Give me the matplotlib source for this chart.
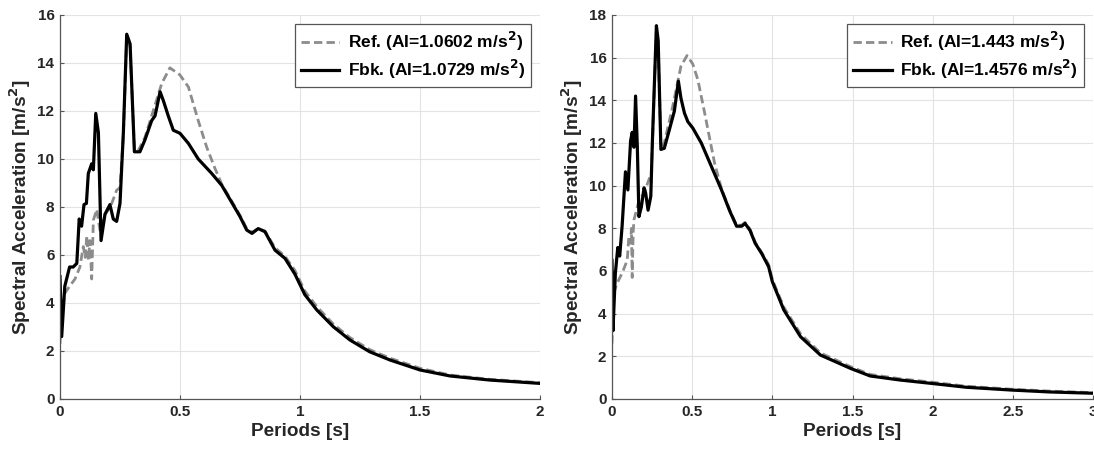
import matplotlib
matplotlib.use("Agg")
import matplotlib.pyplot as plt

plt.rcParams['font.family'] = ['Liberation Sans', 'DejaVu Sans']
plt.rcParams['font.weight'] = 'bold'

# ---- Left panel data ----
left_fbk_T = [0, 0.007, 0.02, 0.04, 0.055, 0.07, 0.08, 0.09, 0.1, 0.11, 0.118, 0.132, 0.139, 0.149, 0.16,
              0.171, 0.1875, 0.208, 0.222, 0.236, 0.25, 0.264, 0.278, 0.292, 0.31, 0.333, 0.354, 0.382,
              0.396, 0.417, 0.43, 0.451, 0.472, 0.5, 0.535, 0.576, 0.632, 0.674, 0.715, 0.75, 0.778, 0.8,
              0.826, 0.854, 0.896, 0.9375, 0.979, 1.02, 1.07, 1.139, 1.208, 1.29, 1.375, 1.5, 1.625, 1.79, 2.0]
left_fbk_SA = [5.1, 2.6, 4.7, 5.5, 5.5, 5.65, 7.5, 7.2, 8.1, 8.15, 9.4, 9.8, 9.55, 11.9, 11.1,
               6.6, 7.7, 8.1, 7.5, 7.4, 8.15, 11.1, 15.2, 14.8, 10.3, 10.3, 10.8, 11.6,
               11.8, 12.8, 12.45, 11.8, 11.2, 11.07, 10.65, 10.0, 9.4, 8.9, 8.2, 7.6, 7.04, 6.9,
               7.1, 6.97, 6.2, 5.86, 5.2, 4.35, 3.71, 3.01, 2.46, 1.97, 1.625, 1.21, 0.96, 0.79, 0.65]

left_ref_T = [0, 0.007, 0.02, 0.04, 0.0625, 0.083, 0.097, 0.105, 0.112, 0.118, 0.125, 0.132, 0.139, 0.153,
              0.167, 0.1875, 0.21, 0.236, 0.25, 0.264, 0.278, 0.292, 0.31, 0.326, 0.354, 0.382, 0.424,
              0.458, 0.5, 0.535, 0.576, 0.611, 0.646, 0.674, 0.715, 0.75, 0.778, 0.8, 0.826, 0.854, 0.896,
              0.9375, 0.979, 1.02, 1.07, 1.139, 1.208, 1.29, 1.375, 1.5, 1.625, 1.79, 2.0]
left_ref_SA = [2.3, 3.5, 4.4, 4.7, 5.0, 5.5, 6.35, 5.9, 6.8, 5.8, 6.6, 5.0, 7.45, 7.9,
               7.0, 7.7, 8.0, 8.7, 8.8, 11.0, 15.1, 14.7, 10.4, 10.35, 10.9, 11.8, 13.15,
               13.8, 13.5, 13.0, 11.6, 10.5, 9.6, 8.95, 8.25, 7.65, 7.1, 6.95, 7.1, 7.0, 6.3,
               5.95, 5.35, 4.5, 3.85, 3.12, 2.56, 2.06, 1.7, 1.28, 1.0, 0.82, 0.68]

# ---- Right panel data ----
right_fbk_T = [0, 0.006, 0.021, 0.036, 0.048, 0.063, 0.084, 0.099, 0.116, 0.126, 0.137, 0.147, 0.158,
               0.168, 0.183, 0.2, 0.21, 0.225, 0.242, 0.252, 0.277, 0.288, 0.305, 0.326, 0.357, 0.389,
               0.414, 0.43, 0.452, 0.473, 0.504, 0.557, 0.62, 0.683, 0.735, 0.777, 0.809, 0.83, 0.861,
               0.893, 0.935, 0.977, 1.0, 1.072, 1.176, 1.3, 1.486, 1.61, 1.796, 1.994, 2.21, 2.49, 2.73, 3.0]
right_fbk_SA = [6.5, 3.2, 5.9, 7.1, 6.7, 8.1, 10.65, 9.8, 12.1, 12.5, 11.8, 14.2, 11.8,
                8.55, 9.0, 9.9, 9.65, 8.85, 9.5, 12.1, 17.5, 16.8, 11.7, 11.75, 12.6, 13.5,
                14.9, 14.1, 13.4, 13.0, 12.7, 12.0, 10.9, 9.8, 8.8, 8.1, 8.1, 8.23, 7.9,
                7.3, 6.8, 6.2, 5.5, 4.17, 2.92, 2.06, 1.44, 1.08, 0.89, 0.73, 0.55, 0.42, 0.33, 0.27]

right_ref_T = [0, 0.01, 0.03, 0.063, 0.095, 0.105, 0.116, 0.121, 0.126, 0.132, 0.137, 0.158, 0.168, 0.2,
               0.231, 0.245, 0.252, 0.277, 0.288, 0.305, 0.326, 0.378, 0.43, 0.468, 0.504, 0.536, 0.578,
               0.62, 0.64, 0.683, 0.735, 0.777, 0.809, 0.83, 0.861, 0.893, 0.935, 0.977, 1.0, 1.072,
               1.176, 1.3, 1.486, 1.61, 1.796, 1.994, 2.21, 2.49, 2.73, 3.0]
right_ref_SA = [2.6, 4.95, 5.4, 5.9, 6.5, 7.6, 7.3, 8.0, 5.7, 7.8, 8.4, 9.0, 9.3, 9.65,
                10.3, 10.6, 12.0, 17.3, 16.6, 11.8, 12.0, 13.7, 15.6, 16.1, 15.7, 14.95, 13.4,
                11.8, 11.05, 9.85, 8.85, 8.15, 8.15, 8.28, 7.95, 7.35, 6.85, 6.3, 5.6, 4.3,
                3.05, 2.16, 1.52, 1.15, 0.95, 0.79, 0.6, 0.46, 0.37, 0.3]

left_labels = ['Ref. (AI=1.0602 m/s$^\\mathbf{2}$)', 'Fbk. (AI=1.0729 m/s$^\\mathbf{2}$)']
right_labels = ['Ref. (AI=1.443 m/s$^\\mathbf{2}$)', 'Fbk. (AI=1.4576 m/s$^\\mathbf{2}$)']

fig = plt.figure(figsize=(10.94, 4.53), dpi=100)
axL = fig.add_axes([60/1094, 54/453, 480/1094, 384/453])
axR = fig.add_axes([612/1094, 54/453, 481/1094, 384/453])

panels = [
    (axL, left_ref_T, left_ref_SA, left_fbk_T, left_fbk_SA, left_labels, 2, 16, [0, 0.5, 1, 1.5, 2]),
    (axR, right_ref_T, right_ref_SA, right_fbk_T, right_fbk_SA, right_labels, 3, 18, [0, 0.5, 1, 1.5, 2, 2.5, 3]),
]

for ax, rT, rS, fT, fS, labs, xmax, ymax, xt in panels:
    ax.plot(rT, rS, color='#8c8c8c', lw=2.0, ls=(0, (3, 1.5)), label=labs[0])
    ax.plot(fT, fS, color='black', lw=2.3, label=labs[1])
    ax.set_xlim(0, xmax)
    ax.set_ylim(0, ymax)
    ax.set_xticks(xt)
    ax.set_xticklabels([f'{v:g}' for v in xt])
    ax.set_yticks(range(0, ymax + 1, 2))
    ax.grid(True, color='#e3e3e3', lw=0.8)
    ax.set_axisbelow(True)
    for s in ['top', 'right']:
        ax.spines[s].set_visible(False)
    for s in ['left', 'bottom']:
        ax.spines[s].set_color('#555555')
        ax.spines[s].set_linewidth(0.9)
    ax.tick_params(direction='in', length=3, width=0.8, color='#555555', labelsize=11,
                   labelcolor='#262626', pad=4)
    for t in ax.get_xticklabels() + ax.get_yticklabels():
        t.set_fontweight('bold')
    ax.set_xlabel('Periods [s]', fontsize=13.7, fontweight='bold', color='#262626', labelpad=3)
    ax.set_ylabel('Spectral Acceleration [m/s$^\\mathbf{2}$]', fontsize=13.7, fontweight='bold',
                  color='#262626', labelpad=3)
    leg = ax.legend(loc='upper right', fontsize=12.5, frameon=True, fancybox=False,
                    edgecolor='#555555', framealpha=1, handlelength=2.2, handletextpad=0.5,
                    borderpad=0.35, labelspacing=0.3, borderaxespad=0.5,
                    prop={'weight': 'bold', 'size': 12.5})
    leg.get_frame().set_linewidth(0.9)

fig.savefig('out.png', dpi=100)
